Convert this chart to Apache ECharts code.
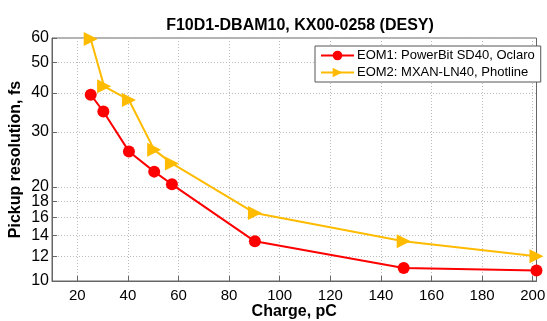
<!DOCTYPE html>
<html><head><meta charset="utf-8">
<script src="https://cdn.jsdelivr.net/npm/echarts@6/dist/echarts.min.js"></script>
<style>html,body{margin:0;padding:0;background:#fff}#c{width:547px;height:321px}</style>
</head><body><div id="c"></div>
<script>
const chargeEOM1 = [25.3, 30.3, 40.4, 50.4, 57.4, 90.2, 149, 201.5];
const resEOM1 = [39.5, 34.9, 26.0, 22.4, 20.4, 13.4, 11.0, 10.8];
const chargeEOM2 = [25.3, 30.6, 40.4, 50.4, 57.4, 90.2, 149, 201.5];
const resEOM2 = [59.6, 42.0, 38.0, 26.3, 23.8, 16.5, 13.4, 12.0];
const xTicks = [20, 40, 60, 80, 100, 120, 140, 160, 180, 200];
const yTicks = [10, 12, 14, 16, 18, 20, 30, 40, 50, 60];
const seriesNames = ['EOM1: PowerBit SD40, Oclaro', 'EOM2: MXAN-LN40, Photline'];
const title = 'F10D1-DBAM10, KX00-0258 (DESY)';

const font = 'Liberation Sans, Arial, sans-serif';
const chart = echarts.init(document.getElementById('c'), null, {renderer: 'canvas'});
const zip = (a, b) => a.map((v, i) => [v, b[i]]);
chart.setOption({
  animation: false,
  title: {text: title, left: 295, top: 12, textAlign: 'center',
    textStyle: {fontFamily: font, fontSize: 16, fontWeight: 'bold', color: '#000', lineHeight: 18}},
  grid: {left: 52, top: 38, right: 10.5, bottom: 40, show: true, borderColor: '#666', borderWidth: 1,
    containLabel: false, outerBoundsMode: 'none'},
  legend: {orient: 'vertical', left: 315, top: 46, itemWidth: 33, itemHeight: 12, itemGap: 4,
    padding: [3, 6, 3, 5], backgroundColor: '#fff', borderColor: '#555', borderWidth: 1,
    textStyle: {fontFamily: font, fontSize: 13, color: '#000', padding: [0, 0, 0, -2]},
    data: seriesNames},
  xAxis: {type: 'value', min: 10, max: 201.5,
    name: 'Charge, pC', nameLocation: 'middle', nameGap: 23, nameMoveOverlap: false,
    nameTextStyle: {fontFamily: font, fontSize: 16, fontWeight: 'bold', color: '#000'},
    axisLine: {lineStyle: {color: '#666'}},
    axisTick: {inside: true, length: 5, customValues: xTicks, lineStyle: {color: '#666'}},
    axisLabel: {customValues: xTicks, fontFamily: font, fontSize: 15, color: '#000', margin: 7},
    splitLine: {show: true, lineStyle: {color: '#bbb', type: [1, 2]}}},
  yAxis: {type: 'log', logBase: 10, min: 10, max: 60,
    name: 'Pickup resolution, fs', nameLocation: 'middle', nameGap: 28, nameMoveOverlap: false,
    nameTextStyle: {fontFamily: font, fontSize: 16, fontWeight: 'bold', color: '#000'},
    axisLine: {show: true, lineStyle: {color: '#666'}},
    axisTick: {show: true, inside: true, length: 5, customValues: yTicks, lineStyle: {color: '#666'}},
    axisLabel: {customValues: yTicks, fontFamily: font, fontSize: 16, color: '#000', margin: 3},
    splitLine: {show: true, lineStyle: {color: '#bbb', type: [1, 2]}}},
  series: [
    {name: seriesNames[0], type: 'line', data: zip(chargeEOM1, resEOM1), color: '#ff0000',
      symbol: 'circle', symbolSize: 12, lineStyle: {width: 2}, itemStyle: {color: '#ff0000'}, z: 3},
    {name: seriesNames[1], type: 'line', data: zip(chargeEOM2, resEOM2), color: '#ffbb00',
      symbol: 'triangle', symbolRotate: -90, symbolSize: 14, lineStyle: {width: 2}, itemStyle: {color: '#ffbb00'}, z: 2}
  ]
});
</script></body></html>
